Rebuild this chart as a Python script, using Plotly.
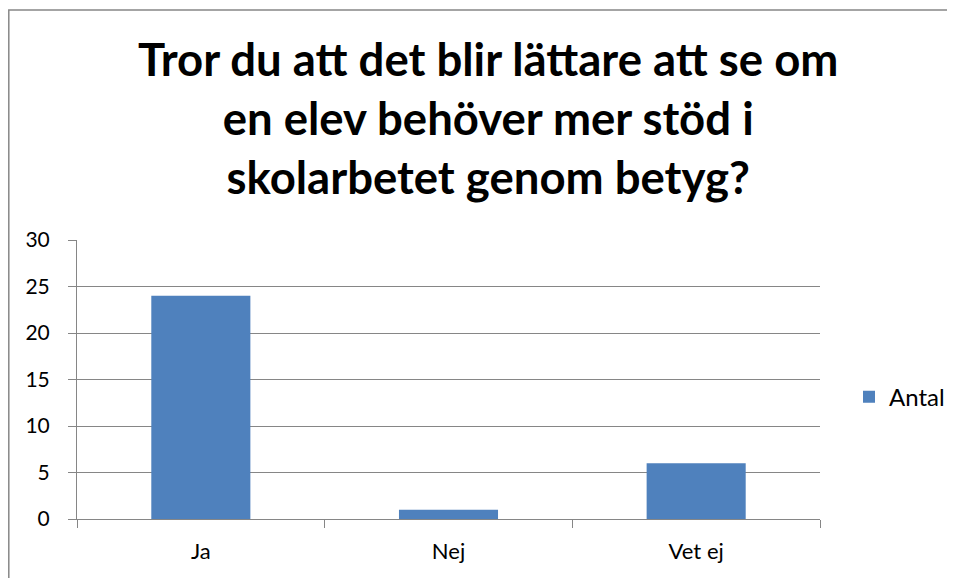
import plotly.graph_objects as go

categories = ["Ja", "Nej", "Vet ej"]
antal = [24, 1, 6]
series_name = "Antal"
title_lines = ["Tror du att det blir lättare att se om", "en elev behöver mer stöd i", "skolarbetet genom betyg?"]
y_ticks = [0, 5, 10, 15, 20, 25, 30]

# page has an 8px body margin; figure coords = screenshot coords - 8
OFF = 8
W, H = 955, 578
L, R, T, B = 77 - OFF, W - (820 - OFF), 239.5 - OFF, H - (519 - OFF)
pw, ph = W - L - R, H - T - B

def px_x(px):
    return (px - OFF - L) / pw

def px_y(py):
    return (H - B - (py - OFF)) / ph

FONT = "Lato"
GRAY = "#868686"

fig = go.Figure()
fig.add_trace(go.Bar(x=categories, y=antal, name=series_name, marker=dict(color="#4F81BD", line=dict(width=0))))

fig.update_layout(
    width=W, height=H,
    margin=dict(l=L, r=R, t=T, b=B),
    paper_bgcolor="white", plot_bgcolor="white",
    bargap=0.6,
    showlegend=True,
    legend=dict(x=px_x(849), y=px_y(397), xanchor="left", yanchor="middle",
                font=dict(family=FONT, size=24, color="black"), bgcolor="rgba(0,0,0,0)"),
    font=dict(family=FONT, color="black"),
    xaxis=dict(showline=True, linecolor=GRAY, linewidth=1, ticks="outside", tickson="boundaries",
               ticklen=8, tickcolor=GRAY, showgrid=False, tickfont=dict(size=22, family=FONT),
               ticklabelstandoff=13, fixedrange=True),
    yaxis=dict(range=[0, 30], tickvals=y_ticks, showline=True, linecolor=GRAY, linewidth=1,
               ticks="outside", ticklen=8, tickcolor=GRAY, showgrid=True, gridcolor=GRAY, gridwidth=1,
               zeroline=False, tickfont=dict(size=21, family=FONT), ticklabelstandoff=14),
)

fig.add_annotation(text="<br>".join(title_lines), xref="paper", yref="paper",
                   x=px_x(487.5), y=px_y(117), xanchor="center", yanchor="middle",
                   showarrow=False, align="center",
                   font=dict(family=FONT, size=45.5, color="black", weight="bold"))

# chart-area border: only top and left edges are visible in the crop
bx0, bx1, by_top, by_bot = px_x(8.8), px_x(1000), px_y(9), px_y(700)
fig.add_shape(type="path", xref="paper", yref="paper",
              path=f"M {bx1} {by_top} L {bx0} {by_top} L {bx0} {by_bot}",
              line=dict(color="#878787", width=1.5), layer="below")

fig.write_html("out.html")
